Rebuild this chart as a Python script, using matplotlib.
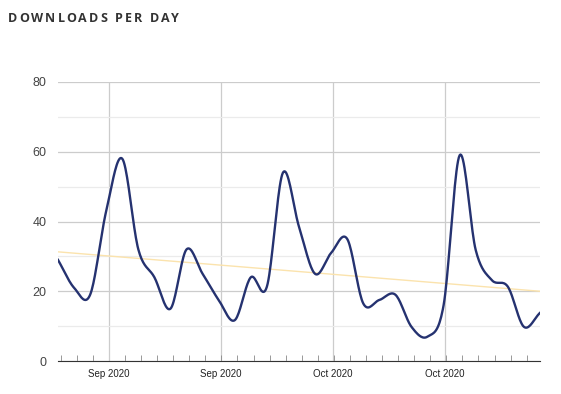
import numpy as np
import matplotlib
matplotlib.use('Agg')
import matplotlib.pyplot as plt

# daily downloads, 31 days
downloads = [29, 21, 19, 43, 58, 32, 24, 15, 32, 25, 17.5, 11.7, 24, 21.3, 54,
             38.5, 25, 31, 35, 16.5, 17.5, 19, 9.8, 7, 16, 59, 31.8, 23.2, 21.3, 9.8, 13.8]
trend = [31.3, 20.0]   # trend line at first and last day
tick_labels = ['Sep 2020', 'Sep 2020', 'Oct 2020', 'Oct 2020']
major_pos = [3.17, 10.15, 17.12, 24.09]
title = 'DOWNLOADS PER DAY'

days = np.arange(len(downloads))

# catmull-rom style smoothing for drawing only
def smooth(x, y, n=20):
    x = np.asarray(x, float); y = np.asarray(y, float)
    px = np.concatenate([[2*x[0]-x[1]], x, [2*x[-1]-x[-2]]])
    py = np.concatenate([[2*y[0]-y[1]], y, [2*y[-1]-y[-2]]])
    xs, ys = [], []
    t = np.linspace(0, 1, n, endpoint=False)
    for i in range(1, len(px)-2):
        p0, p1, p2, p3 = py[i-1], py[i], py[i+1], py[i+2]
        ys.append(0.5*((2*p1) + (-p0+p2)*t + (2*p0-5*p1+4*p2-p3)*t**2 + (-p0+3*p1-3*p2+p3)*t**3))
        xs.append(px[i] + (px[i+1]-px[i])*t)
    xs.append([x[-1]]); ys.append([y[-1]])
    return np.concatenate(xs), np.concatenate(ys)

fig = plt.figure(figsize=(5.61, 3.94), dpi=100)
ax = fig.add_axes([58/561, 33/394, 482/561, 279/394])

sx, sy = smooth(days, downloads)
ax.plot([days[0], days[-1]], trend, color='#fbe3ad', lw=1.0, zorder=2)
ax.plot(sx, sy, color='#253270', lw=1.7, zorder=3)

ax.set_xlim(0, 30)
ax.set_ylim(0, 80)
ax.set_yticks([0, 20, 40, 60, 80])
ax.set_yticks([10, 30, 50, 70], minor=True)
ax.set_xticks(major_pos)
ax.set_xticklabels(tick_labels, fontsize=7, family='Liberation Sans', color='#222222')
ax.set_xticks([0.17 + k for k in range(30)], minor=True)
ax.grid(which='major', axis='both', color='#cccccc', lw=0.9)
ax.grid(which='minor', axis='y', color='#ebebeb', lw=0.9)
ax.tick_params(axis='y', which='both', length=0, labelsize=9, colors='#444444', pad=8.5)
ax.tick_params(axis='x', which='both', direction='in', length=4, color='#888888', pad=6)
ax.tick_params(axis='x', which='major', length=0)
for lab in ax.get_yticklabels():
    lab.set_family('Liberation Sans')
for s in ['top', 'right', 'left']:
    ax.spines[s].set_visible(False)
ax.spines['bottom'].set_color('#333333')
ax.spines['bottom'].set_zorder(4)

# title with letter spacing, drawn char by char
renderer = fig.canvas.get_renderer()
xpix = 8.0
for ch in title:
    t = fig.text(xpix/561, 1 - 18/394, ch, fontsize=9, fontweight='bold',
                 family='Open Sans', color='#333333', va='center')
    w = t.get_window_extent(renderer).width
    if ch == ' ':
        w = 3.5
    xpix += w + 2.0

fig.savefig('out.png', dpi=100)
